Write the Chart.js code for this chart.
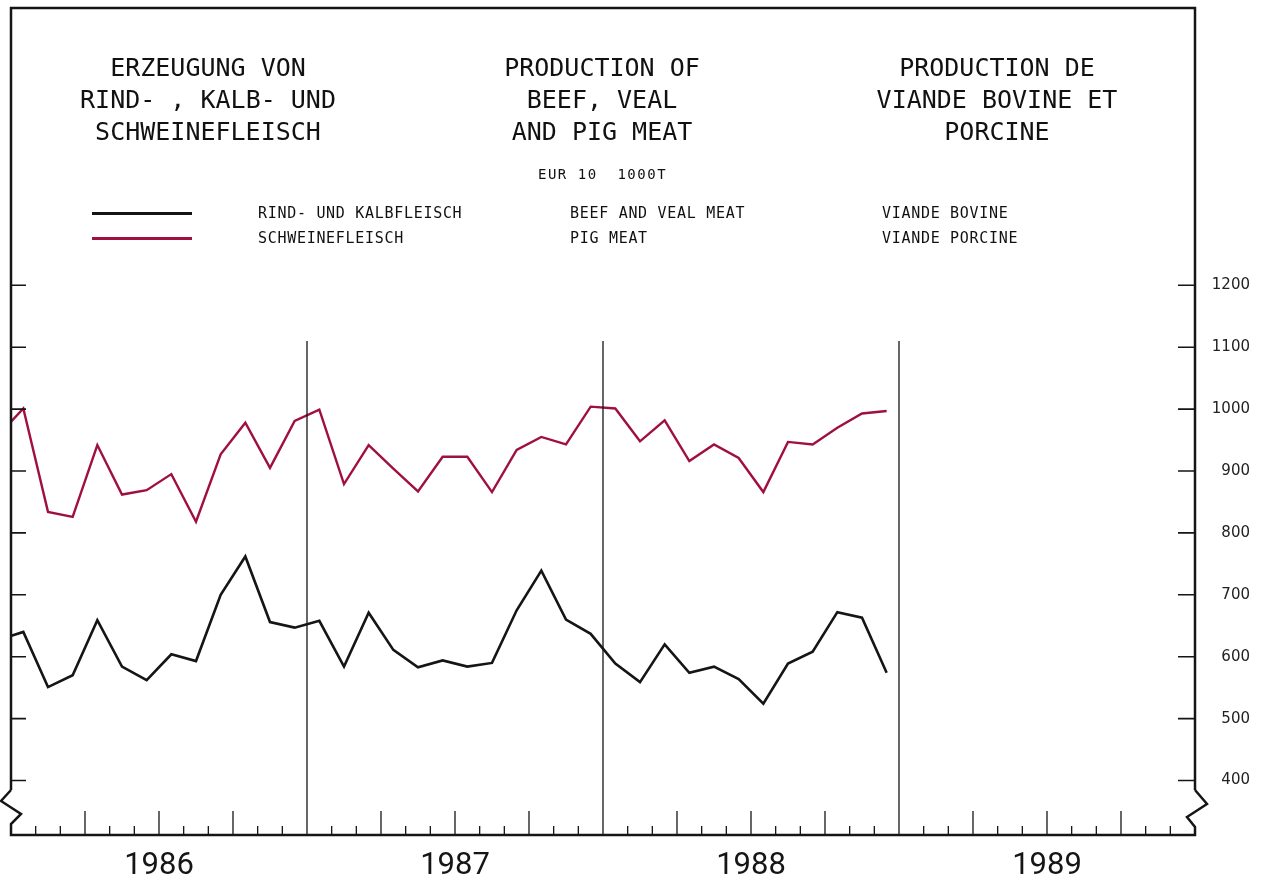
<!DOCTYPE html>
<html>
<head>
<meta charset="utf-8">
<script src="https://cdn.jsdelivr.net/npm/chart.js@4.4.1/dist/chart.umd.min.js"></script>
<style>
  html, body { margin: 0; padding: 0; background: #fff; }
  #wrap { position: relative; width: 1269px; height: 877px; overflow: hidden; }
  canvas { position: absolute; left: 0; top: 0; }
  .txt { position: absolute; color: #111; font-family: "DejaVu Sans Mono", "Liberation Mono", monospace; white-space: pre; }
  .head { font-size: 25px; line-height: 32px; text-align: center; width: 420px; }
  .leg { font-size: 15px; line-height: 20px; letter-spacing: 0.7px; }
  .swatch { position: absolute; width: 100px; height: 3px; }
</style>
</head>
<body>
<div id="wrap">
  <canvas id="chart" width="1269" height="877"></canvas>

  <div class="txt head" style="left:-2px; top:52px;">ERZEUGUNG VON
RIND- , KALB- UND
SCHWEINEFLEISCH</div>
  <div class="txt head" style="left:392px; top:52px;">PRODUCTION OF
BEEF, VEAL
AND PIG MEAT</div>
  <div class="txt head" style="left:787px; top:52px;">PRODUCTION DE
VIANDE BOVINE ET
PORCINE</div>
  <div class="txt" style="left:538px; top:164px; font-size:14px; line-height:20px; letter-spacing:1.5px;">EUR 10  1000T</div>

  <div class="swatch" style="left:92px; top:212px; background:#151515;"></div>
  <div class="swatch" style="left:92px; top:237px; background:#a0103f;"></div>
  <div class="txt leg" style="left:258px; top:203px;">RIND- UND KALBFLEISCH</div>
  <div class="txt leg" style="left:570px; top:203px;">BEEF AND VEAL MEAT</div>
  <div class="txt leg" style="left:882px; top:203px;">VIANDE BOVINE</div>
  <div class="txt leg" style="left:258px; top:228px;">SCHWEINEFLEISCH</div>
  <div class="txt leg" style="left:570px; top:228px;">PIG MEAT</div>
  <div class="txt leg" style="left:882px; top:228px;">VIANDE PORCINE</div>
</div>

<script>
// monthly values, December 1985 to December 1988 (1000 t)
const firstMonth = -1; // December 1985, months counted from January 1986
const beefVeal = [
  627,
  640, 551, 570, 659, 584, 562, 604, 593, 700, 762, 656, 647,
  658, 584, 671, 611, 583, 594, 584, 590, 675, 739, 660, 637,
  589, 559, 620, 574, 584, 564, 524, 589, 608, 672, 663, 574
];
const pigMeat = [
  958,
  1001, 834, 826, 942, 862, 869, 895, 818, 927, 978, 905, 981,
  999, 879, 942, 904, 867, 923, 923, 866, 934, 955, 943, 1004,
  1001, 948, 982, 916, 943, 921, 866, 947, 943, 970, 993, 997
];
const years = ["1986", "1987", "1988", "1989"];
const yTicks = [400, 500, 600, 700, 800, 900, 1000, 1100, 1200];

const ink = "#151515";
const pigRed = "#a0103f";

function toPoints(values) {
  return values.map((v, i) => ({ x: firstMonth + i + 0.5, y: v }));
}

// frame, inward ticks, year dividers and axis break marks
const framePlugin = {
  id: "frame",
  afterDraw(chart) {
    const ctx = chart.ctx;
    const a = chart.chartArea;
    const xs = chart.scales.x;
    const ys = chart.scales.y;
    const l = a.left, r = a.right, t = a.top, b = a.bottom;
    ctx.save();
    ctx.strokeStyle = ink;
    ctx.lineJoin = "miter";

    // outer frame with broken-axis zig-zags
    ctx.lineWidth = 2.5;
    ctx.beginPath();
    ctx.moveTo(l, b - 45);
    ctx.lineTo(l, t);
    ctx.lineTo(r, t);
    ctx.lineTo(r, b - 45);
    ctx.stroke();

    ctx.beginPath();
    ctx.moveTo(l, b - 45);
    ctx.lineTo(l - 10, b - 34);
    ctx.lineTo(l + 10, b - 21);
    ctx.lineTo(l, b - 11);
    ctx.lineTo(l, b);
    ctx.lineTo(r, b);
    ctx.lineTo(r, b - 8);
    ctx.lineTo(r - 8, b - 18);
    ctx.lineTo(r + 12, b - 31);
    ctx.lineTo(r, b - 45);
    ctx.stroke();

    // value ticks on both sides
    ctx.lineWidth = 1.6;
    yTicks.forEach(v => {
      const py = ys.getPixelForValue(v);
      ctx.beginPath();
      ctx.moveTo(l, py); ctx.lineTo(l + 15, py);
      ctx.moveTo(r - 17, py); ctx.lineTo(r, py);
      ctx.stroke();
    });

    // month ticks, quarter ticks longer
    ctx.lineWidth = 1.3;
    for (let m = 1; m < 48; m++) {
      if (m % 12 === 0) continue;
      const px = xs.getPixelForValue(m);
      const len = m % 3 === 0 ? 24 : 9;
      ctx.beginPath();
      ctx.moveTo(px, b); ctx.lineTo(px, b - len);
      ctx.stroke();
    }

    // year dividers
    const topY = ys.getPixelForValue(1110);
    [12, 24, 36].forEach(m => {
      const px = xs.getPixelForValue(m);
      ctx.beginPath();
      ctx.moveTo(px, topY); ctx.lineTo(px, b);
      ctx.stroke();
    });
    ctx.restore();
  }
};

new Chart(document.getElementById("chart"), {
  type: "line",
  data: {
    datasets: [
      {
        label: "RIND- UND KALBFLEISCH",
        data: toPoints(beefVeal),
        borderColor: ink,
        borderWidth: 2.6,
        pointRadius: 0,
        tension: 0
      },
      {
        label: "SCHWEINEFLEISCH",
        data: toPoints(pigMeat),
        borderColor: pigRed,
        borderWidth: 2.4,
        pointRadius: 0,
        tension: 0
      }
    ]
  },
  options: {
    responsive: false,
    devicePixelRatio: 1,
    animation: false,
    layout: { padding: { left: 11, top: 8, right: 19, bottom: 0 } },
    plugins: { legend: { display: false }, tooltip: { enabled: false } },
    scales: {
      x: {
        type: "linear",
        min: 0,
        max: 48,
        grid: { display: false },
        border: { display: false },
        afterBuildTicks: s => { s.ticks = [6, 18, 30, 42].map(v => ({ value: v })); },
        afterFit: s => {
          s.height = 42;
          s.paddingLeft = 0;
          s.paddingRight = 0;
        },
        ticks: {
          autoSkip: false,
          maxRotation: 0,
          padding: 5,
          color: ink,
          font: { family: "Roboto", size: 31 },
          callback: v => years[(v - 6) / 12]
        }
      },
      y: {
        type: "linear",
        position: "right",
        min: 312,
        max: 1648,
        grid: { display: false },
        border: { display: false },
        afterBuildTicks: s => { s.ticks = yTicks.map(v => ({ value: v })); },
        afterFit: s => {
          s.width = 55;
          s.paddingTop = 0;
          s.paddingBottom = 0;
        },
        ticks: {
          crossAlign: "far",
          padding: 17,
          color: "#222",
          font: { family: "DejaVu Sans", size: 15 },
          callback: v => String(v)
        }
      }
    }
  },
  plugins: [framePlugin]
});
</script>
</body>
</html>
